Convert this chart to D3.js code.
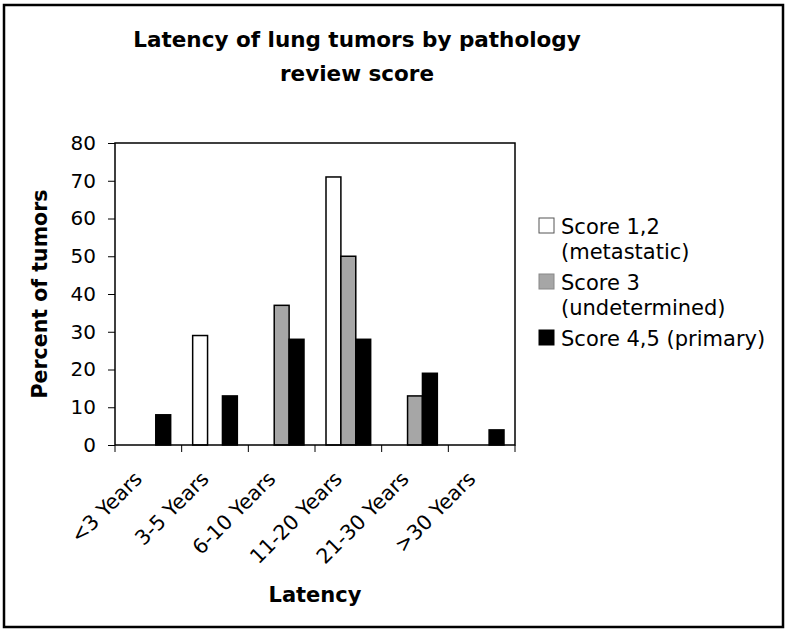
<!DOCTYPE html>
<html>
<head>
<meta charset="utf-8">
<script src="https://cdn.jsdelivr.net/npm/d3@7"></script>
<style>
  body { margin: 0; background: #fff; }
  text { font-family: "DejaVu Sans", Verdana, sans-serif; fill: #000; }
</style>
</head>
<body>
<div id="chart"></div>
<script>
/* DATA */
const categories = ["<3 Years", "3-5 Years", "6-10 Years", "11-20 Years", "21-30 Years", ">30 Years"];
const seriesNames = ["Score 1,2 (metastatic)", "Score 3 (undetermined)", "Score 4,5 (primary)"];
const legendLines = [["Score 1,2", "(metastatic)"], ["Score 3", "(undetermined)"], ["Score 4,5 (primary)"]];
const score12 = [0, 29, 0, 71, 0, 0];
const score3 = [0, 0, 37, 50, 13, 0];
const score45 = [8, 13, 28, 28, 19, 4];
const yTicks = [0, 10, 20, 30, 40, 50, 60, 70, 80];
const colors = ["#ffffff", "#a6a6a6", "#000000"];

/* LAYOUT */
const width = 789, height = 633;
const margin = { top: 143, left: 115, right: 274, bottom: 188 };
const plotW = width - margin.left - margin.right;
const plotH = height - margin.top - margin.bottom;

const svg = d3.select("#chart").append("svg")
  .attr("width", width)
  .attr("height", height);

// outer frame
svg.append("rect")
  .attr("x", 4).attr("y", 5)
  .attr("width", 779).attr("height", 622)
  .attr("fill", "none").attr("stroke", "#000").attr("stroke-width", 2.5);

// title
svg.append("text")
  .attr("x", 357).attr("y", 47)
  .attr("text-anchor", "middle")
  .style("font-size", "21.5px").style("font-weight", "bold")
  .text("Latency of lung tumors by pathology");
svg.append("text")
  .attr("x", 357).attr("y", 81)
  .attr("text-anchor", "middle")
  .style("font-size", "21.5px").style("font-weight", "bold")
  .text("review score");

const g = svg.append("g").attr("transform", `translate(${margin.left},${margin.top})`);

const x0 = d3.scaleBand().domain(categories).range([0, plotW]).paddingInner(0).paddingOuter(0);
const x1 = d3.scaleBand().domain(d3.range(3)).range([11, x0.bandwidth() - 11]);
const y = d3.scaleLinear().domain([0, 80]).range([plotH, 0]);

const rows = categories.map((c, i) => ({ cat: c, vals: [score12[i], score3[i], score45[i]] }));

// bars
g.selectAll("g.group")
  .data(rows)
  .join("g")
  .attr("class", "group")
  .attr("transform", d => `translate(${x0(d.cat)},0)`)
  .selectAll("rect")
  .data(d => d.vals.map((v, k) => ({ v, k })).filter(d => d.v > 0))
  .join("rect")
  .attr("x", d => x1(d.k))
  .attr("width", x1.bandwidth())
  .attr("y", d => y(d.v))
  .attr("height", d => plotH - y(d.v))
  .attr("fill", d => colors[d.k])
  .attr("stroke", "#000")
  .attr("stroke-width", 1.5);

// plot frame
g.append("rect")
  .attr("width", plotW).attr("height", plotH)
  .attr("fill", "none").attr("stroke", "#000").attr("stroke-width", 1.5);

// y axis
const yAxis = g.append("g")
  .call(d3.axisLeft(y).tickValues(yTicks).tickSize(7).tickPadding(12));
yAxis.select(".domain").remove();
yAxis.selectAll("line").attr("stroke", "#000").attr("stroke-width", 1);
yAxis.selectAll("text").style("font-size", "20px").style("font-family", "DejaVu Sans, Verdana, sans-serif");

// x axis ticks at category boundaries
const bounds = categories.map(c => x0(c)).concat([plotW]);
g.selectAll("line.xtick")
  .data(bounds)
  .join("line")
  .attr("class", "xtick")
  .attr("x1", d => d).attr("x2", d => d)
  .attr("y1", plotH).attr("y2", plotH + 7)
  .attr("stroke", "#000").attr("stroke-width", 1);

// x labels
g.selectAll("text.xlab")
  .data(categories)
  .join("text")
  .attr("class", "xlab")
  .attr("transform", d => `translate(${x0(d) + x0.bandwidth() / 2 - 10},${plotH + 30}) rotate(-45)`)
  .attr("text-anchor", "end")
  .attr("dy", "0.35em")
  .style("font-size", "20.5px")
  .text(d => d);

// axis titles
svg.append("text")
  .attr("x", margin.left + plotW / 2).attr("y", 602)
  .attr("text-anchor", "middle")
  .style("font-size", "21px").style("font-weight", "bold")
  .text("Latency");
svg.append("text")
  .attr("transform", `translate(47,${margin.top + plotH / 2}) rotate(-90)`)
  .attr("text-anchor", "middle")
  .style("font-size", "20.5px").style("font-weight", "bold")
  .text("Percent of tumors");

// legend
const legendY = [218, 274, 330];
const legend = svg.append("g");
legendLines.forEach((lines, i) => {
  legend.append("rect")
    .attr("x", 539).attr("y", legendY[i])
    .attr("width", 15).attr("height", 15)
    .attr("fill", colors[i])
    .attr("stroke", i === 0 ? "#555" : colors[i] === "#000000" ? "#000" : "#888")
    .attr("stroke-width", 1);
  lines.forEach((t, j) => {
    legend.append("text")
      .attr("x", 561).attr("y", legendY[i] + 16 + j * 25)
      .style("font-size", "21px")
      .text(t);
  });
});
</script>
</body>
</html>
